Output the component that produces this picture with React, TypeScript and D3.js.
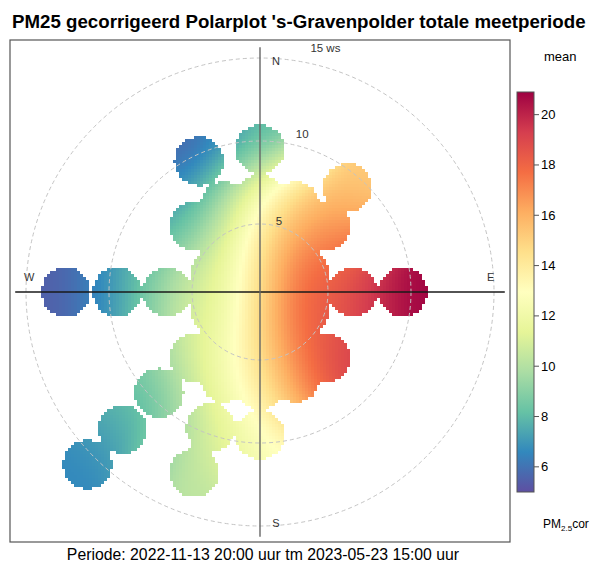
import React, { useEffect, useRef } from 'react';
import * as d3 from 'd3';

const title = "PM25 gecorrigeerd Polarplot 's-Gravenpolder totale meetperiode";
const periode = 'Periode: 2022-11-13 20:00 uur tm 2023-05-23 15:00 uur';

// wind direction (deg), wind speed and mean PM2.5 of every bin
const binWd = [
  0,
  0, 22.5, 45, 67.5, 90, 112.5, 135, 157.5, 180, 202.5, 225, 247.5, 270, 292.5, 315, 337.5,
  0, 22.5, 45, 90, 135, 157.5, 180, 202.5, 225, 270, 315, 337.5,
  0, 335, 40, 90, 270, 225, 200, 180,
  270, 225, 200,
  225
];
const binWs = [
  1,
  3.8, 3.8, 3.8, 3.8, 3.8, 3.8, 3.8, 3.8, 3.8, 3.8, 3.8, 3.8, 3.8, 3.8, 3.8, 3.8,
  6.5, 6.5, 6.5, 6.5, 6.5, 6.5, 6.5, 6.5, 6.5, 6.5, 6.5, 6.5,
  9.5, 9.6, 9.1, 9.5, 9.5, 9.5, 9.6, 9.5,
  12.6, 12.6, 12.5,
  15.6
];
const binMean = [
  15.0,
  14.3, 16.3, 17.3, 17.9, 18.2, 18.2, 17.8, 16.8, 14.8, 12.8, 11.8, 11.4, 11.2, 11.2, 11.4, 12.2,
  13.0, 15.4, 17.0, 18.7, 18.9, 17.0, 13.8, 12.2, 10.9, 9.6, 8.1, 9.7,
  8.5, 6.3, 15.4, 20.6, 7.1, 8.6, 10.8, 12.8,
  5.6, 7.6, 10.3,
  6.7
];

const gridWs = [5, 10, 15];
const gridLabels = ['5', '10', '15 ws'];
const compass = ['N', 'E', 'S', 'W'];
const compassWd = [0, 90, 180, 270];
const colourTicks = [6, 8, 10, 12, 14, 16, 18, 20];
const colourRange = [5, 20.9];
const spectral = ['#5E4FA2', '#3288BD', '#66C2A5', '#ABDDA4', '#E6F598', '#FFFFBF',
  '#FEE08B', '#FDAE61', '#F46D43', '#D53E4F', '#9E0142'];

const FONT = '"Liberation Sans", Arial, sans-serif';
const CX = 260;
const CY = 292;
const CELL = 3;
const N = 83;
const BLOB_R = 24.5;
const SIGMA = 30;
const RIDGE = 0.5;

const rScale = d3.scaleLinear().domain([5, 15]).range([68, 234]);
const colour = d3.scaleSequential(d3.piecewise(d3.interpolateRgb, spectral)).domain(colourRange).clamp(true);
const barY = d3.scaleLinear().domain(colourRange).range([492, 92]);

function polar(wd: number, r: number): [number, number] {
  const a = (wd * Math.PI) / 180;
  return [CX + r * Math.sin(a), CY - r * Math.cos(a)];
}

type Pt = { x: number; y: number; v: number };

// local linear smoother, a bit like the gam surface of polarPlot
function smooth(px: number, py: number, pts: Pt[]): number {
  let s0 = 0, sx = 0, sy = 0, sxx = 0, sxy = 0, syy = 0, t0 = 0, tx = 0, ty = 0;
  pts.forEach((p) => {
    const dx = (p.x - px) / SIGMA;
    const dy = (p.y - py) / SIGMA;
    const w = Math.exp(-(dx * dx + dy * dy) / 2);
    if (w < 1e-7) return;
    s0 += w; sx += w * dx; sy += w * dy;
    sxx += w * dx * dx; sxy += w * dx * dy; syy += w * dy * dy;
    t0 += w * p.v; tx += w * p.v * dx; ty += w * p.v * dy;
  });
  const a11 = sxx + RIDGE * s0;
  const a22 = syy + RIDGE * s0;
  const det = s0 * (a11 * a22 - sxy * sxy) - sx * (sx * a22 - sxy * sy) + sy * (sx * sxy - a11 * sy);
  const num = t0 * (a11 * a22 - sxy * sxy) - sx * (tx * a22 - sxy * ty) + sy * (tx * sxy - a11 * ty);
  return num / det;
}

export default function App(): JSX.Element {
  const gRef = useRef<SVGGElement>(null);

  useEffect(() => {
    const g = gRef.current;
    if (g == null) {
      return;
    }
    const pts: Pt[] = binWd.map((wd, i) => {
      const [x, y] = polar(wd, rScale(binWs[i]));
      return { x, y, v: binMean[i] };
    });
    const innerR = rScale(3.8);
    const size = 2 * N;
    const mask: boolean[] = new Array(size * size).fill(false);
    for (let i = 0; i < size; i++) {
      for (let j = 0; j < size; j++) {
        const px = CX + (i - N) * CELL + CELL / 2;
        const py = CY + (j - N) * CELL + CELL / 2;
        mask[i * size + j] =
          Math.hypot(px - CX, py - CY) < innerR ||
          pts.some((p) => (p.x - px) ** 2 + (p.y - py) ** 2 <= BLOB_R * BLOB_R);
      }
    }
    // close single-cell holes left between neighbouring bins
    const at = (i: number, j: number) => i >= 0 && j >= 0 && i < size && j < size && mask[i * size + j];
    const cells: Pt[] = [];
    for (let i = 0; i < size; i++) {
      for (let j = 0; j < size; j++) {
        let inside = mask[i * size + j];
        if (!inside) {
          const n = +at(i - 1, j) + +at(i + 1, j) + +at(i, j - 1) + +at(i, j + 1);
          inside = n >= 3;
        }
        if (!inside) continue;
        const x0 = CX + (i - N) * CELL;
        const y0 = CY + (j - N) * CELL;
        cells.push({ x: x0, y: y0, v: smooth(x0 + CELL / 2, y0 + CELL / 2, pts) });
      }
    }
    d3.select(g)
      .selectAll('rect')
      .data(cells)
      .join('rect')
      .attr('x', (d) => d.x)
      .attr('y', (d) => d.y)
      .attr('width', CELL)
      .attr('height', CELL)
      .attr('fill', (d) => colour(d.v))
      .attr('shape-rendering', 'crispEdges');
  }, []);

  const lineR = rScale(15.65);
  const labelR = rScale(14.8);

  return (
    <svg width={592} height={564} style={{ position: 'absolute', left: 0, top: 0, background: '#fff' }} fontFamily={FONT}>
      <defs>
        <linearGradient id="bar" x1="0" y1="1" x2="0" y2="0">
          {spectral.map((c, i) => (
            <stop key={i} offset={i / (spectral.length - 1)} stopColor={c} />
          ))}
        </linearGradient>
      </defs>
      <text x={12} y={28} fontSize={18.7} fontWeight="bold" fill="#000">{title}</text>

      <rect x={10} y={40} width={500} height={502} fill="#fff" />
      <g ref={gRef} />

      {gridWs.map((ws) => (
        <circle key={ws} cx={CX} cy={CY} r={rScale(ws)} fill="none" stroke="#c4c4c4" strokeWidth={1} strokeDasharray="4,3" />
      ))}
      <line x1={CX - lineR} x2={CX + lineR} y1={CY} y2={CY} stroke="#1a1a1a" strokeWidth={1.3} />
      <line x1={CX} x2={CX} y1={CY - lineR} y2={CY + lineR} stroke="#666" strokeWidth={1.4} />

      {compass.map((c, i) => {
        const [x, y] = polar(compassWd[i], labelR);
        const dx = i % 2 === 0 ? 16 : 0;
        const dy = i % 2 === 0 ? 0 : -15;
        return (
          <text key={c} x={x + dx} y={y + dy} fontSize={11} fill="#333" textAnchor="middle" dominantBaseline="central">{c}</text>
        );
      })}
      {gridWs.map((ws, i) => {
        const [x, y] = polar(15, rScale(ws) * 1.08);
        return (
          <text key={ws} x={x} y={y} fontSize={11.5} fill="#333" textAnchor="middle" dominantBaseline="central">{gridLabels[i]}</text>
        );
      })}

      <rect x={10} y={40} width={500} height={502} fill="none" stroke="#555" strokeWidth={1.2} />

      <text x={544} y={61} fontSize={13} fill="#000">mean</text>
      <rect x={517} y={barY(colourRange[1])} width={17} height={barY(colourRange[0]) - barY(colourRange[1])} fill="url(#bar)" stroke="#555" strokeWidth={1} />
      {colourTicks.map((t) => (
        <g key={t}>
          <line x1={534} x2={539} y1={barY(t)} y2={barY(t)} stroke="#555" />
          <text x={541} y={barY(t)} fontSize={13} fill="#000" dominantBaseline="central">{t}</text>
        </g>
      ))}
      <text x={543} y={528} fontSize={12} fill="#000">
        PM<tspan fontSize={8} dy={3}>2.5</tspan><tspan dy={-3}>cor</tspan>
      </text>

      <text x={263} y={560} fontSize={15.8} fill="#000" textAnchor="middle">{periode}</text>
    </svg>
  );
}
